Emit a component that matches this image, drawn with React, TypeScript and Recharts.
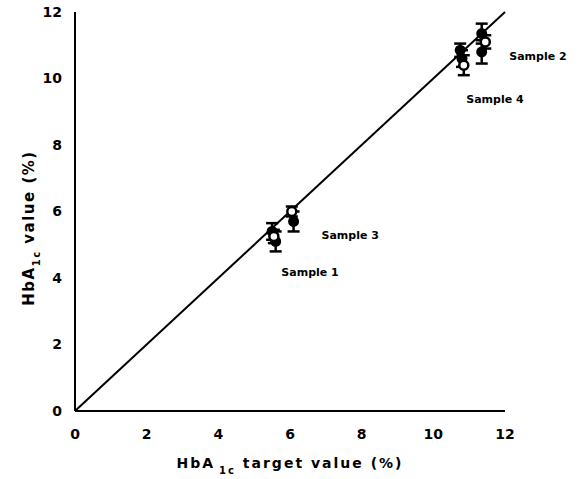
import React from "react";
import {
  ScatterChart,
  Scatter,
  XAxis,
  YAxis,
  ErrorBar,
  ReferenceLine,
  ReferenceDot,
} from "recharts";

const FONT = "'DejaVu Sans', 'Liberation Sans', sans-serif";

// axis ticks
const axisTicks = [0, 2, 4, 6, 8, 10, 12];

// filled circles (target, measured, error)
const filledX = [5.5, 5.6, 6.1, 10.75, 10.8, 11.35, 11.35];
const filledY = [5.4, 5.1, 5.7, 10.85, 10.6, 11.35, 10.8];
const filledErr = [0.25, 0.3, 0.3, 0.2, 0.25, 0.3, 0.35];

// open circles
const openX = [5.55, 6.05, 10.85, 11.45];
const openY = [5.25, 6.0, 10.4, 11.1];
const openErr = [0.2, 0.15, 0.3, 0.2];

// sample labels and where they sit (data units)
const sampleNames = ["Sample 1", "Sample 2", "Sample 3", "Sample 4"];
const sampleLabelX = [6.56, 12.92, 7.68, 11.72];
const sampleLabelY = [4.18, 10.68, 5.29, 9.38];

const filledData = filledX.map((x, i) => ({ x, y: filledY[i], err: filledErr[i] }));
const openData = openX.map((x, i) => ({ x, y: openY[i], err: openErr[i] }));

const FilledDot = (p: any) => <circle cx={p.cx} cy={p.cy} r={5.5} fill="#000" />;
const OpenDot = (p: any) => (
  <circle cx={p.cx} cy={p.cy} r={4.5} fill="#fff" stroke="#000" strokeWidth={2.5} />
);

const XTitle = (props: any) => {
  const vb = props.viewBox || { x: 75, y: 411, width: 430, height: 60 };
  const cx = vb.x + vb.width / 2;
  return (
    <text
      x={cx}
      y={vb.y + 57}
      textAnchor="middle"
      fontFamily={FONT}
      fontWeight="bold"
      fontSize={14}
      letterSpacing={2}
      fill="#000"
    >
      HbA
      <tspan dx={4} dy={6} fontSize={10}>1c</tspan>
      <tspan dy={-6}> target value (%)</tspan>
    </text>
  );
};

const YTitle = () => {
  const x = 34;
  const y = 228;
  return (
    <text
      x={x}
      y={y}
      transform={`rotate(-90, ${x}, ${y})`}
      textAnchor="middle"
      fontFamily={FONT}
      fontWeight="bold"
      fontSize={15}
      letterSpacing={1.5}
      fill="#000"
    >
      HbA
      <tspan dy={6} fontSize={10}>1c</tspan>
      <tspan dy={-6}> value (%)</tspan>
    </text>
  );
};

export default function App() {
  const tick = { fill: "#000", fontSize: 14, fontWeight: "bold", fontFamily: FONT };
  return (
    <div style={{ width: 584, height: 479, background: "#fff" }}>
      <style>{"body{margin:0}"}</style>
      <ScatterChart width={584} height={479} margin={{ top: 12, right: 79, bottom: 8, left: 0 }}>
        <XAxis
          type="number"
          dataKey="x"
          domain={[0, 12]}
          ticks={axisTicks}
          height={60}
          tickLine={false}
          tickSize={0}
          tickMargin={18}
          tick={tick}
          axisLine={{ stroke: "#000", strokeWidth: 2 }}
          label={<XTitle />}
        />
        <YAxis
          type="number"
          dataKey="y"
          domain={[0, 12]}
          ticks={axisTicks}
          width={75}
          tickLine={false}
          tickSize={0}
          tickMargin={13}
          tick={tick}
          axisLine={{ stroke: "#000", strokeWidth: 2 }}
          label={<YTitle />}
        />
        <ReferenceLine
          segment={[{ x: 0, y: 0 }, { x: 12, y: 12 }]}
          stroke="#000"
          strokeWidth={2}
          ifOverflow="visible"
        />
        <Scatter data={filledData} shape={FilledDot} isAnimationActive={false}>
          <ErrorBar dataKey="err" direction="y" width={6} stroke="#000" strokeWidth={2.5} />
        </Scatter>
        <Scatter data={openData} shape={OpenDot} isAnimationActive={false}>
          <ErrorBar dataKey="err" direction="y" width={6} stroke="#000" strokeWidth={2.5} />
        </Scatter>
        {sampleNames.map((name, i) => (
          <ReferenceDot
            key={name}
            x={sampleLabelX[i]}
            y={sampleLabelY[i]}
            r={1}
            fill="none"
            stroke="none"
            ifOverflow="visible"
            label={{
              value: name,
              position: "center",
              fontSize: 11,
              fontWeight: "bold",
              fontFamily: FONT,
              fill: "#000",
            }}
          />
        ))}
      </ScatterChart>
    </div>
  );
}
